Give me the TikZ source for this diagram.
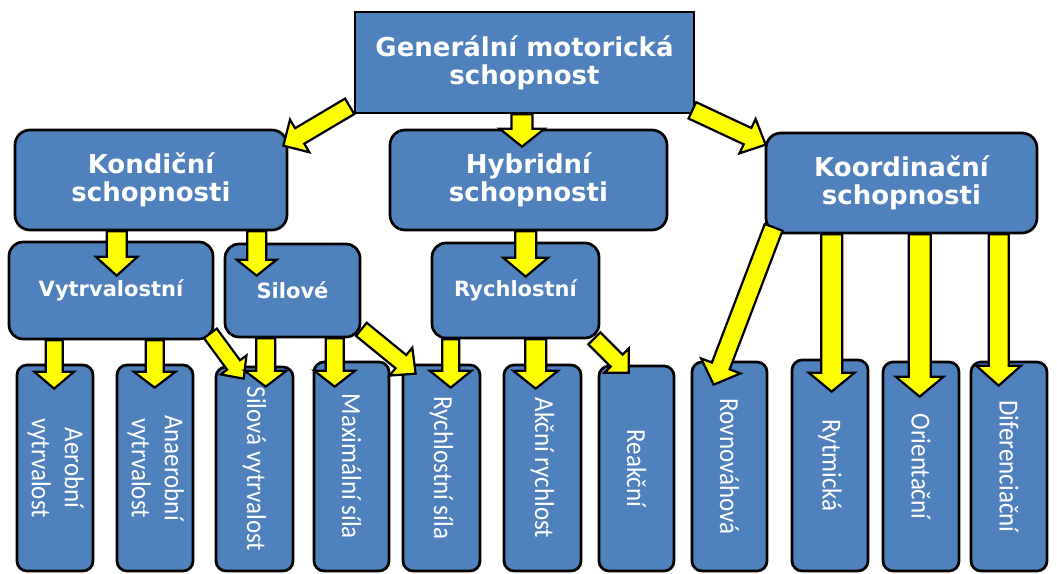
\documentclass[tikz,border=0pt]{standalone}
\usepackage{fontspec}
\usetikzlibrary{calc}
\newfontfamily\hdfont{DejaVu Sans}
\newfontfamily\lffont{Carlito}
\definecolor{boxblue}{HTML}{4F81BD}
\definecolor{arrowyellow}{HTML}{FFFF00}
% #1 start, #2 tip, #3 half shaft width, #4 half head width, #5 head length
\newcommand\blockarrow[5]{%
  \path #1 coordinate (ba) #2 coordinate (bb);
  \path ($(bb)!#5!(ba)$) coordinate (bc);
  \filldraw[arrowst] ($(ba)!#3!90:(bb)$) -- ($(bc)!#3!90:(bb)$) -- ($(bc)!#4!90:(bb)$)
    -- (bb) -- ($(bc)!#4!-90:(bb)$) -- ($(bc)!#3!-90:(bb)$) -- ($(ba)!#3!-90:(bb)$) -- cycle;}
\newcommand\vtext[1]{\rotatebox{-90}{\scalebox{1}[1.1]{#1}}}
\begin{document}
\begin{tikzpicture}[x=1pt,y=-1pt,
  box/.style={draw=black, line width=2.7pt, fill=boxblue, inner sep=0pt, text=white, align=center},
  topbox/.style={box, font=\hdfont\bfseries\fontsize{26}{28}\selectfont},
  midbox/.style={box, rounded corners=15pt, font=\hdfont\bfseries\fontsize{26}{28}\selectfont},
  subbox/.style={box, rounded corners=14pt, font=\hdfont\bfseries\fontsize{21}{24}\selectfont},
  leaf/.style={box, rounded corners=10pt, font=\lffont\fontsize{25}{30}\selectfont},
  arrowst/.style={draw=black, fill=arrowyellow, line width=2.2pt, line join=miter}]
\useasboundingbox (0,0) rectangle (1057,573);
\clip (0,0) rectangle (1057,573);
% level 0
\node[topbox, minimum width=339pt, minimum height=101pt] (gen) at (524.5,62.5) {Generální motorická\\schopnost};
% level 1
\node[midbox, minimum width=272pt, minimum height=100pt] (kond) at (151,180) {Kondiční\\schopnosti};
\node[midbox, minimum width=277pt, minimum height=100pt] (hyb) at (528.5,180) {Hybridní\\schopnosti};
\node[midbox, minimum width=271pt, minimum height=100pt] (koord) at (901.5,183) {Koordinační\\schopnosti};
% level 2
\node[subbox, minimum width=204pt, minimum height=97pt] (vytr) at (111,290.5) {Vytrvalostní};
\node[subbox, minimum width=135pt, minimum height=93pt] (sil) at (292.5,290.5) {Silové};
\node[subbox, minimum width=167pt, minimum height=95pt] (ryc) at (515.5,290.5) {Rychlostní};
% level 3
\node[leaf, minimum width=76pt, minimum height=206pt] (aer) at (55,468) {\vtext{\begin{tabular}{@{}c@{}}Aerobní\\vytrvalost\end{tabular}}};
\node[leaf, minimum width=76pt, minimum height=206pt] (anaer) at (155,468) {\vtext{\begin{tabular}{@{}c@{}}Anaerobní\\vytrvalost\end{tabular}}};
\node[leaf, minimum width=77pt, minimum height=204pt] (silvyt) at (254.5,469) {\vtext{Silová vytrvalost}};
\node[leaf, minimum width=75pt, minimum height=209pt] (maxs) at (351.5,466.5) {\vtext{Maximální síla}};
\node[leaf, minimum width=77pt, minimum height=206pt] (rychs) at (441.5,468) {\vtext{Rychlostní síla}};
\node[leaf, minimum width=77pt, minimum height=206pt] (akc) at (542.5,468) {\vtext{Akční rychlost}};
\node[leaf, minimum width=75pt, minimum height=205pt] (reak) at (636.5,468.5) {\vtext{Reakční}};
\node[leaf, minimum width=75pt, minimum height=209pt] (rovn) at (729.5,466.5) {\vtext{Rovnováhová}};
\node[leaf, minimum width=76pt, minimum height=211pt] (ryt) at (830,465.5) {\vtext{Rytmická}};
\node[leaf, minimum width=76pt, minimum height=209pt] (ori) at (921,466.5) {\vtext{Orientační}};
\node[leaf, minimum width=76pt, minimum height=209pt] (dif) at (1009,466.5) {\vtext{Diferenciační}};
% arrows
\blockarrow{($(gen.south west)+(-4,-8)$)}{($(kond.north east)+(-5,17)$)}{9pt}{19pt}{19pt}
\blockarrow{($(gen.south)+(-2.5,0)$)}{($(hyb.north)+(-6.5,18)$)}{10.5pt}{22.5pt}{18pt}
\blockarrow{($(gen.south east)+(-3,-4)$)}{($(koord.north west)+(1,13)$)}{9pt}{19pt}{20pt}
\blockarrow{($(kond.south west)+(103,0)$)}{($(vytr.north west)+(109,35)$)}{10pt}{21pt}{19pt}
\blockarrow{($(kond.south west)+(243,0)$)}{($(sil.north west)+(33,33)$)}{9.5pt}{20pt}{16pt}
\blockarrow{($(hyb.south west)+(137,0)$)}{($(ryc.north west)+(95,35)$)}{10.5pt}{22.5pt}{19pt}
\blockarrow{($(koord.south west)+(9,-7)$)}{($(rovn.north west)+(23,24)$)}{9.5pt}{21pt}{20pt}
\blockarrow{($(koord.south west)+(67,0)$)}{($(ryt.north west)+(41,33)$)}{10.5pt}{23pt}{19pt}
\blockarrow{($(koord.south west)+(155,0)$)}{($(ori.north west)+(38,36)$)}{11pt}{24pt}{20pt}
\blockarrow{($(koord.south west)+(234,0)$)}{($(dif.north west)+(29,25)$)}{10pt}{22.5pt}{20pt}
\blockarrow{($(vytr.south west)+(46.5,0)$)}{($(aer.north west)+(38.5,25)$)}{8.5pt}{20pt}{17pt}
\blockarrow{($(vytr.south west)+(147,0)$)}{($(anaer.north west)+(39,24)$)}{9pt}{21pt}{16pt}
\blockarrow{($(vytr.south east)+(-4,-7)$)}{($(silvyt.north west)+(29,13)$)}{8pt}{16pt}{17pt}
\blockarrow{($(sil.south west)+(42,0)$)}{($(silvyt.north west)+(51,21)$)}{9.5pt}{21pt}{16pt}
\blockarrow{($(sil.south west)+(111,0)$)}{($(maxs.north west)+(22,26)$)}{9pt}{20.5pt}{16pt}
\blockarrow{($(sil.south east)+(0,-9)$)}{($(rychs.north west)+(14,10)$)}{8.5pt}{18pt}{19pt}
\blockarrow{($(ryc.south west)+(20,0)$)}{($(rychs.north west)+(49,24)$)}{8.5pt}{21pt}{17pt}
\blockarrow{($(ryc.south west)+(105,0)$)}{($(akc.north west)+(33,25)$)}{10.5pt}{22.5pt}{18pt}
\blockarrow{($(ryc.south east)+(-6,-1)$)}{($(reak.north west)+(31,8)$)}{8.5pt}{17pt}{17pt}
\end{tikzpicture}
\end{document}
